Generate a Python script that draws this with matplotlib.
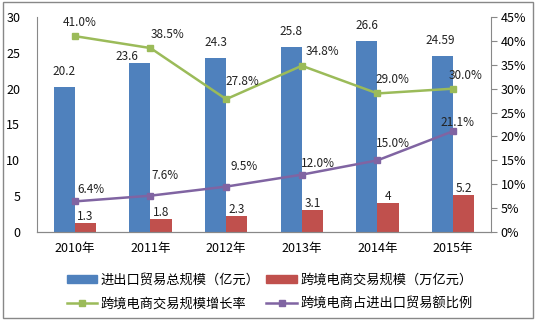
import matplotlib
matplotlib.use("Agg")
import matplotlib.pyplot as plt
from matplotlib.patches import Rectangle
from matplotlib.lines import Line2D
import numpy as np

plt.rcParams['font.family'] = ['Noto Sans CJK SC', 'DejaVu Sans']

years = ['2010年', '2011年', '2012年', '2013年', '2014年', '2015年']
trade_total = [20.2, 23.6, 24.3, 25.8, 26.6, 24.59]
trade_labels = ['20.2', '23.6', '24.3', '25.8', '26.6', '24.59']
ecom_scale = [1.3, 1.8, 2.3, 3.1, 4, 5.2]
ecom_labels = ['1.3', '1.8', '2.3', '3.1', '4', '5.2']
growth_rate = [41.0, 38.5, 27.8, 34.8, 29.0, 30.0]
share_rate = [6.4, 7.6, 9.5, 12.0, 15.0, 21.1]

names = ['进出口贸易总规模（亿元）', '跨境电商交易规模（万亿元）',
         '跨境电商交易规模增长率', '跨境电商占进出口贸易额比例']

blue = '#4F81BD'
red = '#C0504D'
green = '#9BBB59'
purple = '#8064A2'
fs = 8.5
tfs = 9

fig = plt.figure(figsize=(5.36, 3.24), dpi=100)
ax = fig.add_axes([0.069, 0.284, 0.847, 0.6635])
ax2 = ax.twinx()

x = np.arange(len(years))
w = 0.28
ax.bar(x - w / 2, trade_total, w, color=blue, zorder=2)
ax.bar(x + w / 2, ecom_scale, w, color=red, zorder=2)
b_off = [(0, 9), (-13, 0), (0, 9), (0, 9), (0, 9), (-2, 9)]
for xi, v, s, o in zip(x, trade_total, trade_labels, b_off):
    ax.annotate(s, (xi - w / 2, v), xytext=o, textcoords='offset pixels',
                ha='center', va='bottom', fontsize=fs, color='#222222')
for xi, v, s in zip(x, ecom_scale, ecom_labels):
    ax.annotate(s, (xi + w / 2, v), xytext=(0, 0), textcoords='offset pixels',
                ha='center', va='bottom', fontsize=fs, color='#222222')

ax.set_xlim(-0.5, len(years) - 0.5)
ax.set_ylim(0, 30)
ax.set_yticks(range(0, 31, 5))
ax.set_xticks(x)
ax.set_xticklabels(years, fontsize=tfs)
ax.tick_params(axis='x', length=0, pad=7)
ax.tick_params(axis='y', length=0, pad=12, labelsize=tfs)
for s in ['top', 'right']:
    ax.spines[s].set_visible(False)

ax2.plot(x, growth_rate, color=green, lw=1.8, marker='s', ms=5, zorder=3)
ax2.plot(x, share_rate, color=purple, lw=1.8, marker='s', ms=5, zorder=3)
g_off = [(5, 14), (17, 14), (16, 18), (21, 14), (15, 14), (12, 13)]
p_off = [(16, 12), (15, 20), (18, 20), (16, 11), (15, 17), (4, 9)]
for xi, v, o in zip(x, growth_rate, g_off):
    ax2.annotate(f'{v:.1f}%', (xi, v), xytext=o, textcoords='offset pixels',
                 ha='center', va='center', fontsize=fs, color='#222222')
for xi, v, o in zip(x, share_rate, p_off):
    ax2.annotate(f'{v:.1f}%', (xi, v), xytext=o, textcoords='offset pixels',
                 ha='center', va='center', fontsize=fs, color='#222222')
ax2.set_ylim(0, 45)
ax2.set_yticks(range(0, 46, 5))
ax2.set_yticklabels([f'{t}%' for t in range(0, 46, 5)])
ax2.tick_params(axis='y', length=4, pad=3, labelsize=tfs, color='#888888')
for s in ['top', 'left']:
    ax2.spines[s].set_visible(False)
for a in (ax, ax2):
    for s in a.spines.values():
        s.set_color('#888888')

handles = [Rectangle((0, 0), 1, 1, color=blue),
           Line2D([], [], color=green, lw=1.8, marker='s', ms=5),
           Rectangle((0, 0), 1, 1, color=red),
           Line2D([], [], color=purple, lw=1.8, marker='s', ms=5)]
labels = [names[0], names[2], names[1], names[3]]
fig.legend(handles, labels, loc='lower left', bbox_to_anchor=(0.102, 0.005), ncol=2,
           frameon=False, fontsize=9.5, handlelength=2.3, handleheight=0.5,
           columnspacing=0.5, labelspacing=0.8, handletextpad=0.3)

fig.patches.append(Rectangle((0.005, 0.017), 0.99, 0.978, transform=fig.transFigure,
                             fill=False, edgecolor='#888888', lw=1))
fig.savefig('out.png', dpi=100)
